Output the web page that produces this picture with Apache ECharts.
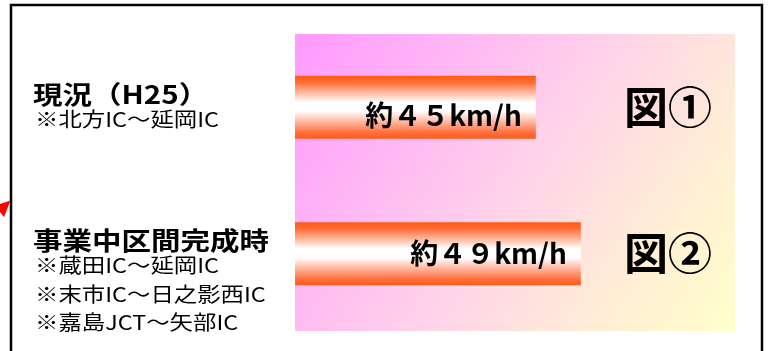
<!DOCTYPE html>
<html lang="ja">
<head>
    <meta charset="UTF-8">
    <title>区間平均速度</title>
    <script src="https://cdn.jsdelivr.net/npm/echarts@6/dist/echarts.min.js"></script>
    <style>
        html, body { margin: 0; padding: 0; background: #fff; }
    </style>
</head>
<body>
<div id="main" style="width: 769px;height:351px;"></div>
<script type="text/javascript">
    // 区分と速度
    var categories = ['現況（H25）', '事業中区間完成時'];
    var notes = [
        ['※北方IC～延岡IC'],
        ['※蔵田IC～延岡IC', '※末市IC～日之影西IC', '※嘉島JCT～矢部IC']
    ];
    var speeds = [45, 49];
    var figureLabels = ['図①', '図②'];

    var JP = '"Noto Sans CJK JP", sans-serif';

    // 数字を全角にする
    function zenkaku(n) {
        return String(n).replace(/[0-9]/g, function (c) {
            return String.fromCharCode(c.charCodeAt(0) + 0xFEE0);
        });
    }

    var myChart = echarts.init(document.getElementById('main'));

    var barColor = new echarts.graphic.LinearGradient(0, 0, 0, 1, [
        {offset: 0, color: '#ff5a12'},
        {offset: 0.1, color: '#ff6b33'},
        {offset: 0.42, color: '#ffffff'},
        {offset: 0.56, color: '#ffffff'},
        {offset: 0.9, color: '#ff7040'},
        {offset: 1, color: '#ff5a12'}
    ]);

    var option = {
        animation: false,
        grid: {left: 295, right: 34, top: 34, bottom: 24},
        xAxis: {
            type: 'value',
            min: 23.6,
            max: 62.7,
            show: false
        },
        yAxis: [{
            type: 'category',
            inverse: true,
            data: categories,
            show: false
        }, {
            type: 'category',
            inverse: true,
            position: 'right',
            data: figureLabels,
            axisLine: {show: false},
            axisTick: {show: false},
            axisLabel: {
                inside: true,
                margin: 23,
                fontSize: 44,
                fontWeight: 'bold',
                fontFamily: JP,
                color: '#000'
            }
        }],
        series: [{
            name: '速度',
            type: 'bar',
            barWidth: 63,
            itemStyle: {color: barColor},
            label: {
                show: true,
                position: 'insideRight',
                distance: 14,
                fontSize: 28,
                fontWeight: 'bold',
                fontFamily: JP,
                color: '#000',
                formatter: function (p) {
                    return '約' + zenkaku(p.value) + 'km/h';
                }
            },
            data: speeds.map(function (v, i) {
                return i === 0 ? {value: v, label: {offset: [0, 8]}} : {value: v};
            })
        }]
    };
    myChart.setOption(option);

    // 背景・枠・左側の説明文
    var elements = [{
        type: 'rect',
        z: -1,
        shape: {x: 295, y: 34, width: 440, height: 297},
        style: {
            fill: new echarts.graphic.LinearGradient(0, 0, 1, 1, [
                {offset: 0, color: '#ff99ff'},
                {offset: 0.5, color: '#ffd2ea'},
                {offset: 0.8, color: '#fff0d4'},
                {offset: 1, color: '#ffffcc'}
            ])
        }
    }, {
        type: 'rect',
        shape: {x: 11, y: 5, width: 751, height: 360},
        style: {fill: null, stroke: '#000', lineWidth: 2.5}
    }, {
        type: 'polygon',
        shape: {points: [[10.5, 200.5], [0, 204], [0, 212], [4, 217]]},
        style: {fill: '#ff0000'}
    }];

    categories.forEach(function (c, i) {
        var cy = myChart.convertToPixel({yAxisIndex: 0}, c);
        var top = cy - 25.5;
        elements.push({
            type: 'text',
            x: 33,
            y: top,
            scaleX: 1.18,
            style: {
                text: c,
                x: 0,
                y: 0,
                font: 'bold 25px ' + JP,
                fill: '#000',
                textVerticalAlign: 'top'
            }
        });
        notes[i].forEach(function (n, j) {
            elements.push({
                type: 'text',
                x: 35,
                y: top + 27.5 + j * 28.5,
                scaleX: 1.17,
                style: {
                    text: n,
                    x: 0,
                    y: 0,
                    font: '20px ' + JP,
                    fill: '#000',
                    textVerticalAlign: 'top'
                }
            });
        });
    });

    myChart.setOption({graphic: {elements: elements}});
</script>
</body>
</html>
